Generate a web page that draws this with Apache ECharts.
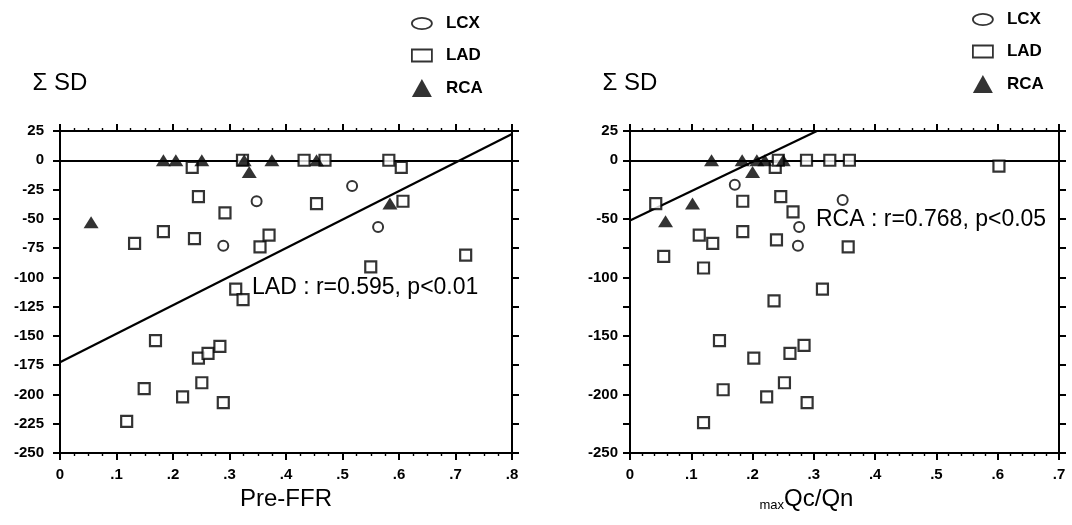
<!DOCTYPE html>
<html>
<head>
<meta charset="utf-8">
<script src="https://cdn.jsdelivr.net/npm/echarts@6/dist/echarts.min.js"></script>
<style>
html,body{margin:0;padding:0;background:#fff;}
#chart{width:1072px;height:525px;}
</style>
</head>
<body>
<div id="chart"></div>
<script>
// ---- Data ----
// Left panel: Pre-FFR vs ΣSD
const lcxFFR = [[0.289,-73],[0.348,-35],[0.517,-22],[0.563,-57]];
const ladFFR = [[0.118,-223],[0.132,-71],[0.149,-195],[0.169,-154],[0.183,-61],[0.217,-202],[0.234,-6],[0.238,-67],
  [0.245,-31],[0.245,-169],[0.251,-190],[0.262,-165],[0.283,-159],[0.289,-207],[0.292,-45],[0.311,-110],[0.323,0],
  [0.324,-119],[0.354,-74],[0.370,-64],[0.432,0],[0.454,-37],[0.469,0],[0.550,-91],[0.582,0],[0.604,-6],[0.607,-35],[0.718,-81]];
const rcaFFR = [[0.055,-53],[0.183,0],[0.205,0],[0.251,0],[0.326,0],[0.335,-10],[0.375,0],[0.454,0],[0.584,-37]];
const ladFitFFR = [[0,-172.5],[0.8,22.5]];
// Right panel: maxQc/Qn vs ΣSD
const lcxQ = [[0.171,-21],[0.274,-73],[0.276,-57],[0.347,-34]];
const ladQ = [[0.042,-37],[0.055,-82],[0.113,-64],[0.135,-71],[0.120,-92],[0.184,-35],[0.184,-61],[0.237,-6],
  [0.246,-31],[0.266,-44],[0.239,-68],[0.235,-120],[0.242,0],[0.288,0],[0.326,0],[0.358,0],[0.602,-5],[0.356,-74],
  [0.314,-110],[0.146,-154],[0.152,-196],[0.120,-224],[0.202,-169],[0.223,-202],[0.252,-190],[0.261,-165],[0.284,-158],[0.289,-207]];
const rcaQ = [[0.058,-52],[0.102,-37],[0.133,0],[0.183,0],[0.200,-10],[0.207,0],[0.220,0],[0.250,0]];
const rcaFitQ = [[0,-51.5],[0.305,25]];

const seriesNames = ['LCX','LAD','RCA'];
const yMin = -250, yMax = 25, yStep = 25;
const xMaxFFR = 0.8, xMaxQ = 0.7, xStep = 0.1;
const annLeft = 'LAD : r=0.595, p<0.01';
const annRight = 'RCA : r=0.768, p<0.05';

// ---- Chart ----
const chart = echarts.init(document.getElementById('chart'), null, {renderer:'canvas'});
const FONT = 'Liberation Sans, Arial, sans-serif';
const tickFont = {fontFamily:FONT, fontWeight:'bold', fontSize:15, color:'#000'};
const lineStyle = {color:'#000', width:2};

function xAxes(gridIndex, max, minorSplit, name, nameStyle){
  const common = {
    type:'value', gridIndex, min:0, max, interval:xStep,
    axisLine:{show:true, onZero:false, lineStyle},
    axisTick:{show:true, inside:false, length:7, lineStyle},
    minorTick:{show:true, splitNumber:minorSplit, length:3, lineStyle:{color:'#000', width:1.4}},
    splitLine:{show:false}, minorSplitLine:{show:false}
  };
  return [
    Object.assign({}, common, {
      position:'bottom',
      axisLabel:{...tickFont, margin:14, formatter:v => v===0 ? '0' : '.' + Math.round(v*10)},
      name, nameLocation:'middle', nameGap:30, nameTextStyle:nameStyle
    }),
    Object.assign({}, common, {position:'top', axisLabel:{show:false}})
  ];
}
function yAxes(gridIndex, labelFilter, margin){
  const common = {
    type:'value', gridIndex, min:yMin, max:yMax, interval:yStep,
    axisLine:{show:true, onZero:false, lineStyle},
    axisTick:{show:true, inside:false, length:7, lineStyle},
    splitLine:{show:false}
  };
  return [
    Object.assign({}, common, {
      position:'left',
      axisLabel:{...tickFont, margin, formatter:v => labelFilter(v) ? String(v) : ''},
      name:'Σ SD', nameLocation:'end', nameGap:36,
      nameTextStyle:{fontFamily:FONT, fontSize:24, color:'#000', align:'center'}
    }),
    Object.assign({}, common, {position:'right', axisLabel:{show:false}})
  ];
}

const symStyles = {
  LCX:{symbol:'circle', symbolSize:10, itemStyle:{color:'#fff', borderColor:'#000', borderWidth:2}},
  LAD:{symbol:'rect', symbolSize:11, itemStyle:{color:'#fff', borderColor:'#000', borderWidth:2.2}},
  RCA:{symbol:'triangle', symbolSize:[15,12], itemStyle:{color:'#000', borderColor:'#000', borderWidth:0}}
};
function scatter(name, data, xi, yi){
  return Object.assign({type:'scatter', name, data, xAxisIndex:xi, yAxisIndex:yi, z:5,
    emphasis:{disabled:true}, silent:true}, symStyles[name]);
}
function fitLine(data, xi, yi){
  return {type:'line', data, xAxisIndex:xi, yAxisIndex:yi, symbol:'none', silent:true, z:3,
    lineStyle:{color:'#000', width:2.2},
    markLine:{silent:true, symbol:'none', label:{show:false}, lineStyle:{color:'#000', width:1.8, type:'solid'},
      data:[{yAxis:0}]}};
}
const legendIcons = {
  LCX:'path://M0,5A9,5 0 1,1 18,5A9,5 0 1,1 0,5Z',
  LAD:'path://M0,0H20V12H0Z',
  RCA:'path://M10,0L20,18H0Z'
};
function legend(left, top){
  return {
    orient:'vertical', left, top, itemWidth:20, itemHeight:18, itemGap:15,
    selectedMode:false, symbolKeepAspect:true,
    textStyle:{fontFamily:FONT, fontWeight:'bold', fontSize:17, color:'#000', padding:[0,0,0,9]},
    data: seriesNames.map(n => ({name:n, icon:legendIcons[n],
      itemStyle: n==='RCA' ? {color:'#000', borderWidth:0} : {color:'#fff', borderColor:'#000', borderWidth:1.8}}))
  };
}

const xa0 = xAxes(0, xMaxFFR, 4, 'Pre-FFR', {fontFamily:FONT, fontSize:24, color:'#000'});
const xa1 = xAxes(1, xMaxQ, 5, '{sub|max}{big|Qc/Qn}', {
  padding:[0,76,0,0],
  rich:{sub:{fontFamily:FONT, fontSize:13, color:'#000', verticalAlign:'bottom', padding:[14,0,0,0]},
        big:{fontFamily:FONT, fontSize:24, color:'#000'}}
});
const ya0 = yAxes(0, v => true, 16);
const ya1 = yAxes(1, v => v % 50 === 0 || v === 25, 12);

chart.setOption({
  animation:false,
  backgroundColor:'#fff',
  grid:[
    {left:60, top:131, width:452, height:322},
    {left:630, top:131, width:429, height:322}
  ],
  xAxis:[xa0[0], xa0[1], xa1[0], xa1[1]],
  yAxis:[ya0[0], ya0[1], ya1[0], ya1[1]],
  legend:[legend(406, 10), legend(967, 6)],
  graphic:[
    {type:'text', left:252, top:276, style:{text:annLeft, fontFamily:FONT, fontSize:23, fill:'#000'}},
    {type:'text', left:816, top:208, style:{text:annRight, fontFamily:FONT, fontSize:23, fill:'#000'}}
  ],
  series:[
    fitLine(ladFitFFR, 0, 0),
    scatter('LCX', lcxFFR, 0, 0),
    scatter('LAD', ladFFR, 0, 0),
    scatter('RCA', rcaFFR, 0, 0),
    fitLine(rcaFitQ, 2, 2),
    scatter('LCX', lcxQ, 2, 2),
    scatter('LAD', ladQ, 2, 2),
    scatter('RCA', rcaQ, 2, 2)
  ]
});
</script>
</body>
</html>
